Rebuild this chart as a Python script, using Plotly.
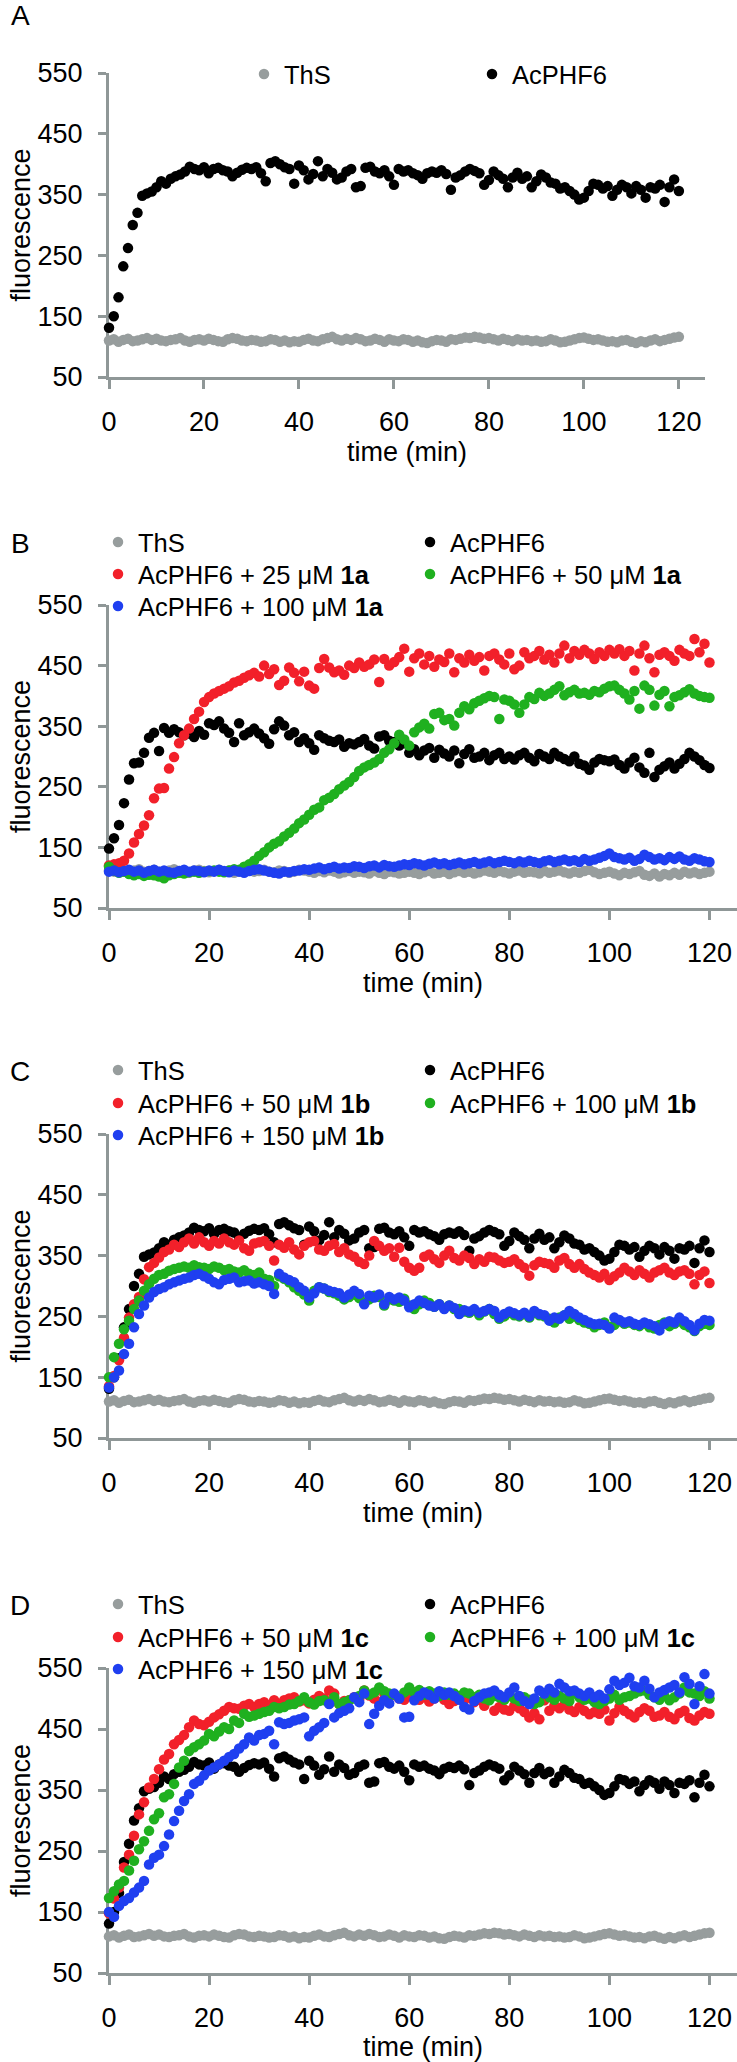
import plotly.graph_objects as go

W, H = 737, 2062
FONT = "Liberation Sans, Arial, sans-serif"
AXIS_COLOR = "#8f9797"

# sampling grid (one reading per minute)
TIME_MIN = list(range(0, 121))

X_TICKS = [0, 20, 40, 60, 80, 100, 120]
Y_TICKS = [50, 150, 250, 350, 450, 550]

# ThS alone (panels A, C, D)
THS = [110,112,108,111,113,109,110,112,114,111,
       113,110,109,111,112,114,110,108,111,112,
       110,113,111,109,108,112,114,113,110,109,
       111,110,108,109,112,111,108,110,107,109,
       108,111,113,110,109,112,114,116,112,110,
       113,111,114,112,109,110,113,111,108,112,
       110,109,112,111,108,110,107,106,109,111,
       110,108,112,111,113,115,114,116,115,113,
       114,112,110,113,111,109,112,110,111,109,
       110,108,109,112,110,107,108,110,112,114,
       115,113,111,112,110,108,109,107,110,111,
       108,106,109,107,110,112,109,111,113,115,
       116]

# AcPHF6 alone (panels A, C, D)
ACPHF6 = [131,150,181,232,262,300,320,348,352,355,
          362,372,368,376,380,383,388,396,392,390,
          395,385,392,394,390,388,380,386,391,394,
          392,395,385,372,402,405,400,395,392,368,
          398,390,375,384,405,380,392,386,375,378,
          388,392,362,364,394,396,388,385,390,380,
          366,392,388,390,385,382,376,385,388,386,
          390,384,358,378,382,388,392,389,385,366,
          374,388,382,376,362,378,386,376,380,362,
          372,383,378,370,368,360,362,356,350,342,
          345,356,368,366,360,364,348,358,366,362,
          352,364,358,345,362,360,366,338,362,375,
          356]

# Panel B
THS_B = [112,110,113,111,109,112,114,110,111,113,
         110,109,112,114,111,110,108,112,113,111,
         109,111,113,110,112,108,111,114,112,110,
         111,113,110,109,112,111,108,110,113,112,
         110,108,111,109,112,110,107,109,111,108,
         110,109,107,111,108,106,110,109,107,108,
         110,108,106,109,111,107,108,110,106,109,
         111,108,110,107,109,112,110,108,111,109,
         107,110,112,108,110,109,107,111,108,110,
         112,109,107,110,108,111,113,109,106,108,
         110,107,104,108,106,109,111,105,103,107,
         102,106,104,108,105,110,107,109,106,108,
         110]
ACPHF6_B = [148,165,187,223,262,289,290,306,331,339,
            309,347,339,345,340,335,338,332,342,336,
            355,352,358,346,339,324,355,335,340,346,
            338,330,321,345,358,351,335,340,324,330,
            322,311,335,330,326,324,328,316,322,320,
            324,329,318,313,333,335,326,324,318,322,
            306,312,302,310,314,298,311,305,300,310,
            289,304,312,298,300,306,294,302,306,296,
            300,295,302,306,298,292,304,300,296,306,
            300,296,292,300,288,285,278,290,296,294,
            292,295,286,280,290,298,282,273,306,266,
            278,284,290,280,288,296,306,300,294,286,
            281]
AC_25_1A = [120,122,124,128,140,158,172,186,203,231,
            247,248,280,299,322,335,346,362,374,390,
            398,404,408,412,416,422,425,430,434,438,
            432,450,436,444,418,425,447,438,424,440,
            417,412,446,461,447,439,442,435,450,446,
            455,448,452,460,423,461,450,456,464,478,
            440,462,470,452,466,448,460,456,470,439,
            462,455,468,458,464,442,466,470,460,452,
            470,444,450,472,462,466,474,460,468,455,
            470,483,462,474,468,476,470,461,472,466,
            476,470,477,466,474,442,470,483,462,439,
            468,472,466,458,476,470,466,494,472,486,
            455]
AC_50_1A = [118,112,108,110,106,104,106,103,105,104,
            102,99,104,106,108,107,109,110,108,110,
            111,112,110,109,112,114,113,118,122,128,
            136,142,150,156,160,168,174,181,190,196,
            204,212,216,228,232,238,246,252,258,266,
            276,282,286,290,296,306,312,322,336,328,
            318,340,348,354,346,370,372,360,362,351,
            372,383,378,388,392,396,400,398,362,394,
            392,386,372,386,398,395,405,400,404,410,
            416,401,406,410,404,405,402,408,406,412,
            416,417,410,404,394,408,379,417,410,384,
            402,408,383,398,401,406,411,404,400,398,
            397]
AC_100_1A = [110,112,109,111,113,110,112,108,111,113,
             110,112,109,108,111,113,110,112,111,109,
             112,110,113,111,109,112,110,108,111,113,
             114,112,110,108,107,110,109,111,112,114,
             113,115,117,114,116,118,115,117,116,119,
             118,116,119,120,117,121,119,118,120,122,
             121,124,122,120,123,125,122,124,121,123,
             125,122,124,126,123,125,127,124,126,128,
             126,124,127,125,128,126,124,127,129,126,
             128,130,127,129,126,131,128,130,133,136,
             140,134,132,130,133,128,131,138,134,130,
             132,129,134,131,135,130,128,132,130,127,
             126]

# Panel C
AC_50_1B = [135,152,178,215,248,270,282,311,331,338,
            347,356,360,368,364,372,378,370,380,372,
            366,374,370,378,372,368,375,362,358,370,
            372,374,366,342,368,363,372,360,352,366,
            372,374,360,358,366,369,356,362,352,348,
            340,336,350,374,366,358,362,348,363,340,
            330,325,330,348,352,344,338,350,358,346,
            342,350,346,336,344,340,348,347,342,338,
            340,344,336,330,317,334,340,338,336,330,
            342,346,336,330,336,328,322,318,314,320,
            310,316,322,330,324,318,326,320,314,322,
            326,330,322,318,324,326,320,303,318,324,
            305]
AC_100_1B = [150,183,205,229,243,262,276,292,303,312,
             318,320,325,328,330,332,330,334,331,330,
             328,332,330,326,328,324,322,326,320,318,
             322,312,310,300,316,312,306,298,292,286,
             276,292,298,296,290,288,284,278,282,286,
             280,272,278,284,282,268,278,276,274,279,
             268,262,270,276,272,266,270,264,268,262,
             262,258,256,260,252,258,262,254,246,250,
             256,252,250,254,248,256,252,250,246,240,
             248,252,246,250,244,240,238,232,236,240,
             232,236,242,238,240,236,234,238,232,230,
             236,240,234,238,242,236,232,226,234,238,
             236]
AC_150_1B = [133,150,161,188,205,232,254,268,281,290,
             295,298,303,306,309,312,314,318,320,316,
             312,306,303,310,312,314,306,308,309,304,
             306,303,300,287,320,314,310,306,298,292,
             281,288,298,296,292,290,288,281,286,292,
             287,270,284,281,286,270,282,278,281,276,
             265,270,276,272,268,266,270,262,268,264,
             254,260,258,262,256,259,262,259,248,254,
             258,255,252,256,250,259,254,252,243,248,
             246,252,259,254,248,244,240,237,238,236,
             230,248,244,240,242,238,236,240,237,234,
             227,238,242,240,248,242,236,227,238,244,
             243]

# Panel D
AC_50_1C = [148,172,190,223,244,275,310,330,354,368,
            384,400,409,425,432,440,453,464,458,456,
            462,469,474,480,486,484,483,488,491,486,
            491,494,488,497,490,497,500,502,495,497,
            492,498,504,500,513,508,491,496,497,502,
            498,513,505,500,494,508,502,506,500,498,
            504,510,498,502,495,500,506,498,491,496,
            500,497,502,494,498,488,500,480,486,482,
            480,488,484,478,469,476,466,497,480,488,
            484,490,482,478,486,480,474,478,475,482,
            464,476,486,480,474,469,478,484,480,470,
            472,478,470,466,476,480,468,464,472,478,
            475]
AC_100_1C = [173,184,195,201,218,234,253,266,283,302,
             312,338,343,360,387,398,414,420,425,431,
             442,438,446,453,450,464,460,475,470,472,
             475,478,480,486,484,486,490,491,496,502,
             494,490,496,497,492,502,491,494,497,500,
             504,513,506,510,518,512,508,506,502,510,
             518,510,514,506,512,508,504,510,506,508,
             504,510,508,502,506,500,497,504,502,498,
             504,500,496,502,498,491,494,508,502,498,
             504,500,496,508,502,498,500,494,491,496,
             500,506,498,502,504,508,512,513,506,502,
             498,504,497,502,508,518,510,508,504,512,
             500]
AC_150_1C = [150,142,160,168,173,182,190,201,228,239,
             244,258,277,299,316,332,343,360,365,374,
             382,387,392,398,404,409,418,425,436,431,
             440,442,447,425,461,458,460,464,466,469,
             438,447,453,460,491,469,476,480,484,502,
             494,508,458,475,488,497,492,508,500,469,
             470,497,504,510,506,500,512,506,510,504,
             498,486,482,496,502,508,510,513,506,502,
             510,518,504,496,491,500,513,508,516,510,
             524,518,512,513,508,504,510,502,506,500,
             515,529,522,526,534,520,518,529,516,502,
             510,514,518,522,510,535,524,491,520,540,
             508]

GRAY, BLACK, RED, GREEN, BLUE = "#979d9d", "#000000", "#f2202a", "#1fb01f", "#1f3ff0"

# each panel: series grouped into legend rows (row centre y in px)
PANELS = [
    dict(letter="A", letter_y=15, x0=109, x1=705, ytop=73, ybot=377, leg_x=244, entry=183,
         rows=[(76, [("ThS", THS, GRAY), ("AcPHF6", ACPHF6, BLACK)])]),
    dict(letter="B", letter_y=543, x0=109, x1=737, ytop=605, ybot=908, leg_x=98, entry=267,
         rows=[(544, [("ThS", THS_B, GRAY), ("AcPHF6", ACPHF6_B, BLACK)]),
               (576, [("AcPHF6 + 25 μM <b>1a</b>", AC_25_1A, RED),
                      ("AcPHF6 + 50 μM <b>1a</b>", AC_50_1A, GREEN)]),
               (608, [("AcPHF6 + 100 μM <b>1a</b>", AC_100_1A, BLUE)])]),
    dict(letter="C", letter_y=1071, x0=109, x1=737, ytop=1134, ybot=1438, leg_x=98, entry=267,
         rows=[(1072, [("ThS", THS, GRAY), ("AcPHF6", ACPHF6, BLACK)]),
               (1105, [("AcPHF6 + 50 μM <b>1b</b>", AC_50_1B, RED),
                       ("AcPHF6 + 100 μM <b>1b</b>", AC_100_1B, GREEN)]),
               (1137, [("AcPHF6 + 150 μM <b>1b</b>", AC_150_1B, BLUE)])]),
    dict(letter="D", letter_y=1605, x0=109, x1=737, ytop=1668, ybot=1973, leg_x=98, entry=267,
         rows=[(1606, [("ThS", THS, GRAY), ("AcPHF6", ACPHF6, BLACK)]),
               (1639, [("AcPHF6 + 50 μM <b>1c</b>", AC_50_1C, RED),
                       ("AcPHF6 + 100 μM <b>1c</b>", AC_100_1C, GREEN)]),
               (1671, [("AcPHF6 + 150 μM <b>1c</b>", AC_150_1C, BLUE)])]),
]

fig = go.Figure()
layout = dict(
    template="none",
    width=W, height=H, margin=dict(l=0, r=0, t=0, b=0, autoexpand=False),
    paper_bgcolor="white", plot_bgcolor="white",
    font=dict(family=FONT, size=27, color="black"),
    annotations=[], showlegend=True,
)

leg_count = 0
for i, p in enumerate(PANELS):
    n = "" if i == 0 else str(i + 1)
    xa, ya = "x" + n, "y" + n
    for row_y, items in p["rows"]:
        leg_count += 1
        lg = "legend" if leg_count == 1 else "legend" + str(leg_count)
        for name, vals, col in items:
            fig.add_trace(go.Scatter(
                x=TIME_MIN, y=vals, mode="markers", name=name,
                marker=dict(size=10.5, color=col, line=dict(width=0)),
                xaxis=xa, yaxis=ya, legend=lg, cliponaxis=False, hoverinfo="skip"))
        layout[lg] = dict(
            orientation="h", x=p["leg_x"] / W, xanchor="left",
            y=1 - (row_y - 25) / H, yanchor="top",
            entrywidth=p["entry"], entrywidthmode="pixels", traceorder="normal",
            font=dict(size=25.5, family=FONT, color="black"), bgcolor="rgba(0,0,0,0)",
            borderwidth=0, itemclick=False, itemdoubleclick=False)
    layout["xaxis" + n] = dict(
        domain=[p["x0"] / W, p["x1"] / W], range=[0, 125.5], anchor=ya, automargin=False,
        tickvals=X_TICKS, ticks="outside", ticklen=9, tickwidth=3, tickcolor=AXIS_COLOR,
        showline=True, linecolor=AXIS_COLOR, linewidth=3, showgrid=False, zeroline=False,
        tickfont=dict(size=27, family=FONT, color="black"), ticklabelstandoff=10,
        title=dict(text="time (min)", font=dict(size=27, family=FONT, color="black"), standoff=6),
        layer="below traces", fixedrange=True)
    layout["yaxis" + n] = dict(
        domain=[1 - p["ybot"] / H, 1 - p["ytop"] / H], range=[50, 550], anchor=xa, automargin=False,
        tickvals=Y_TICKS, ticks="outside", ticklen=8, tickwidth=3, tickcolor=AXIS_COLOR,
        showline=True, linecolor=AXIS_COLOR, linewidth=3, showgrid=False, zeroline=False,
        tickfont=dict(size=27, family=FONT, color="black"), ticklabelstandoff=10,
        title=dict(text="fluorescence", font=dict(size=27, family=FONT, color="black"), standoff=0),
        layer="below traces", fixedrange=True)
    layout["annotations"].append(dict(
        text=p["letter"], xref="paper", yref="paper", x=20 / W, y=1 - p["letter_y"] / H,
        xanchor="center", yanchor="middle", showarrow=False,
        font=dict(size=28, family=FONT, color="black")))

fig.update_layout(**layout)
fig.write_html("out.html", post_script="document.body.style.margin='0';",
               config={"displayModeBar": False, "staticPlot": True})
